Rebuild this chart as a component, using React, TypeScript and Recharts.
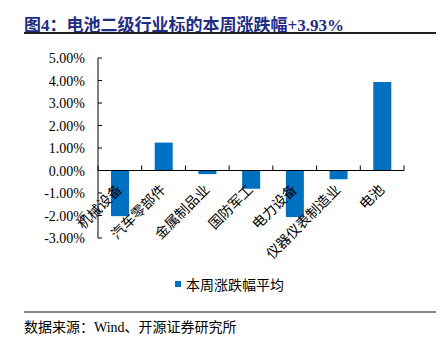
import React from 'react'
import { BarChart, Bar, XAxis, YAxis, ReferenceLine } from 'recharts'

const categories = ['机械设备', '汽车零部件', '金属制品业', '国防军工', '电力设备', '仪器仪表制造业', '电池']
const weeklyChange = [-2.03, 1.24, -0.16, -0.81, -2.07, -0.39, 3.93]
const yTicks = [-3, -2, -1, 0, 1, 2, 3, 4, 5]

const data = categories.map((name, i) => ({ name, value: weeklyChange[i] }))

const W = 443
const H = 340
const PLOT_TOP = 58
const PLOT_LEFT = 98
const PLOT_RIGHT = 404
const PLOT_BOTTOM = 238
const Y_MIN = -3
const Y_MAX = 5
// x labels sit on the zero line, not at the bottom of the plot
const zeroOffset = ((Y_MAX - 0) / (Y_MAX - Y_MIN)) * (PLOT_BOTTOM - PLOT_TOP) - (PLOT_BOTTOM - PLOT_TOP)
const band = (PLOT_RIGHT - PLOT_LEFT) / categories.length

const serif = '"Liberation Serif", "Times New Roman", "Noto Sans CJK SC", serif'
const cjk = '"Liberation Serif", "Noto Sans CJK SC", serif'

function YTick(props: any) {
  const { x, y, payload } = props
  return (
    <g>
      <line x1={x} x2={x + 4} y1={y} y2={y} stroke="#000" />
      <text x={x - 13} y={y} dy={5} textAnchor="end" fontSize={14} fontFamily={serif} fill="#000">
        {payload.value.toFixed(2) + '%'}
      </text>
    </g>
  )
}

function XTick(props: any) {
  const { x, y, payload, index } = props
  const zy = y + zeroOffset
  const bx = x + band / 2
  const ax = x + 3
  const ay = zy + 20
  return (
    <g>
      <line x1={bx} x2={bx} y1={zy} y2={zy - 5} stroke="#000" />
      {index === 0 && <line x1={x - band / 2} x2={x - band / 2} y1={zy} y2={zy - 5} stroke="#000" />}
      <text
        x={ax}
        y={ay}
        textAnchor="end"
        fontSize={14}
        fontFamily={cjk}
        fill="#000"
        transform={`rotate(-45, ${ax}, ${ay})`}
      >
        {payload.value}
      </text>
    </g>
  )
}

export default function App() {
  return (
    <div style={{ position: 'absolute', left: 0, top: 0, width: W, height: H, background: '#fff' }}>
      <div
        style={{
          position: 'absolute',
          left: 24,
          top: 11,
          fontFamily: cjk,
          fontWeight: 'bold',
          fontSize: 17,
          color: '#1F2D86',
          whiteSpace: 'nowrap',
        }}
      >
        图4：电池二级行业标的本周涨跌幅+3.93%
      </div>
      <div style={{ position: 'absolute', left: 24, top: 32, width: 412, height: 2, background: '#222' }} />
      <div style={{ position: 'absolute', left: 0, top: 0 }}>
        <BarChart
          width={W}
          height={H}
          data={data}
          margin={{ top: PLOT_TOP, left: 0, right: W - PLOT_RIGHT, bottom: H - PLOT_BOTTOM - 1 }}
        >
          <XAxis
            dataKey="name"
            height={1}
            axisLine={false}
            tickLine={false}
            tickSize={0}
            tickMargin={0}
            interval={0}
            tick={<XTick />}
          />
          <YAxis
            width={PLOT_LEFT}
            domain={[Y_MIN, Y_MAX]}
            ticks={yTicks}
            interval={0}
            axisLine={{ stroke: '#000' }}
            tickLine={false}
            tickSize={0}
            tickMargin={0}
            tick={<YTick />}
          />
          <ReferenceLine y={0} stroke="#000" />
          <Bar dataKey="value" fill="#0070C0" barSize={18} isAnimationActive={false} />
        </BarChart>
      </div>
      <div
        style={{
          position: 'absolute',
          left: 175,
          top: 274,
          display: 'flex',
          alignItems: 'center',
          fontFamily: cjk,
          fontSize: 14,
          color: '#000',
          whiteSpace: 'nowrap',
        }}
      >
        <span style={{ width: 6, height: 6, background: '#0070C0', marginRight: 5 }} />
        <span>本周涨跌幅平均</span>
      </div>
      <div style={{ position: 'absolute', left: 24, top: 311, width: 412, height: 2, background: '#888' }} />
      <div
        style={{
          position: 'absolute',
          left: 24,
          top: 316,
          fontFamily: cjk,
          fontSize: 14,
          color: '#000',
          whiteSpace: 'nowrap',
        }}
      >
        数据来源：Wind、开源证券研究所
      </div>
    </div>
  )
}
